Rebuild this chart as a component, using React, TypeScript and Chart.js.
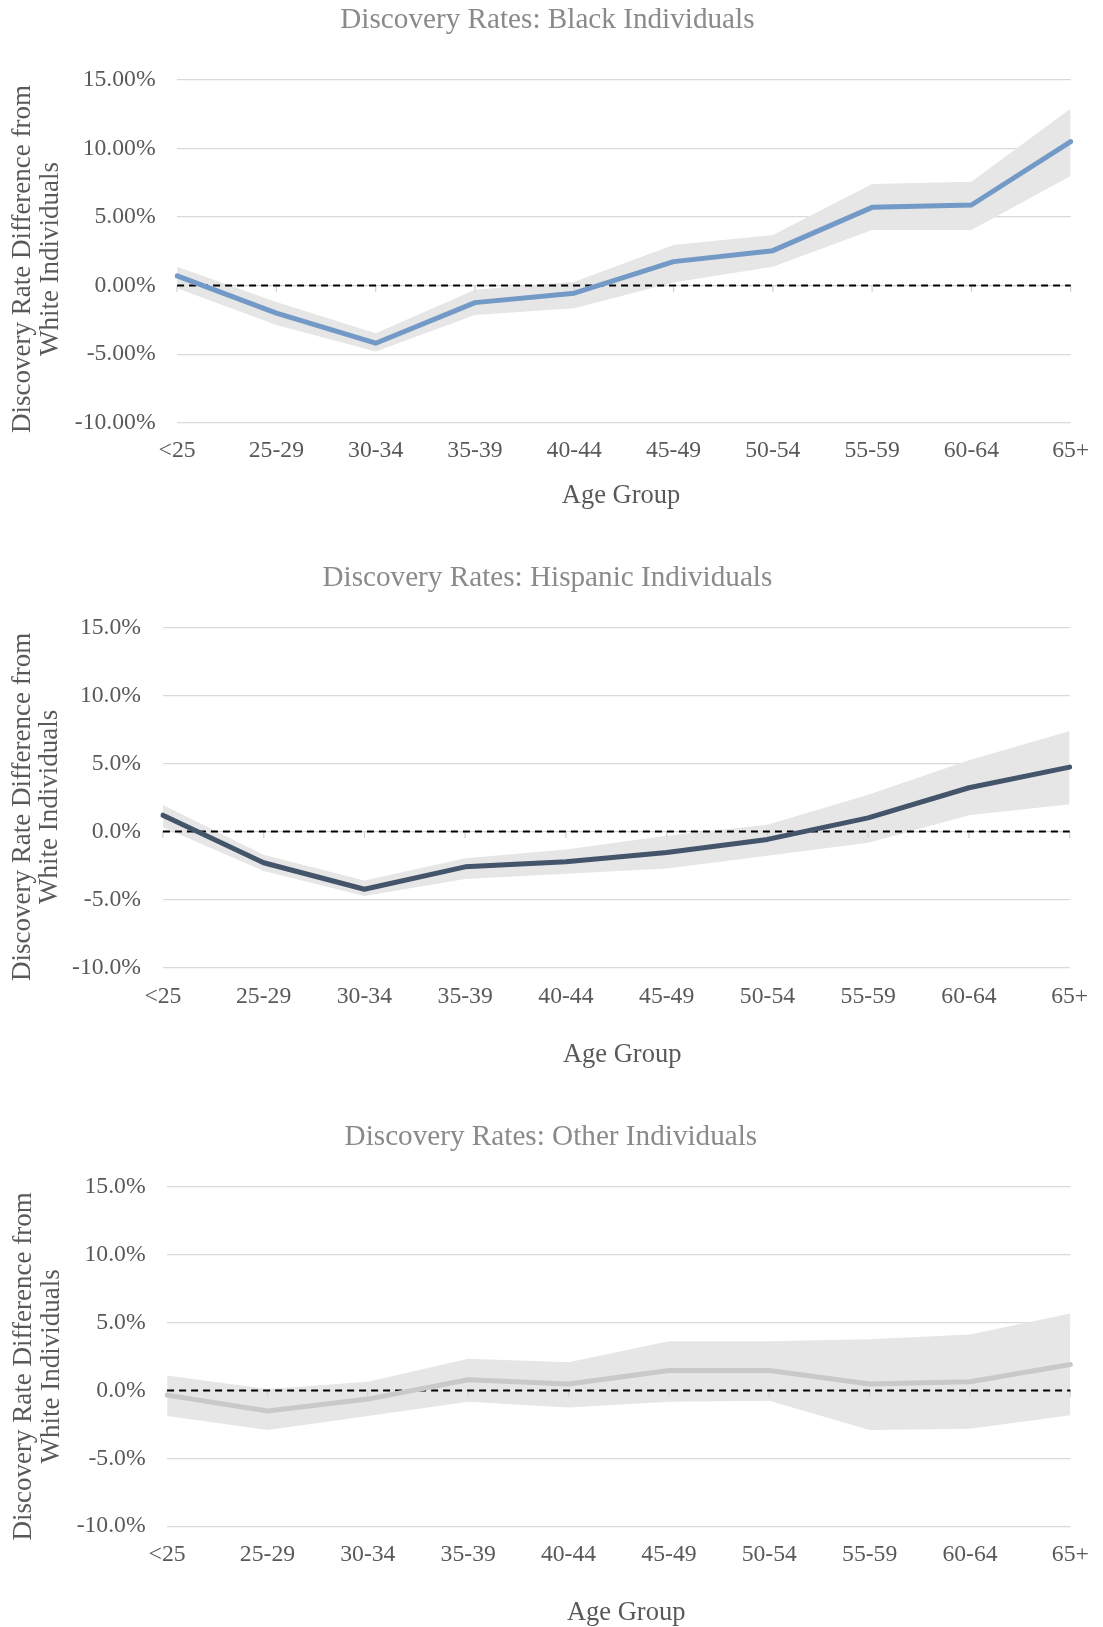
import React, { useEffect, useRef } from "react";
import { Chart, registerables } from "chart.js";

Chart.register(...registerables);

const ageGroups = ["<25", "25-29", "30-34", "35-39", "40-44", "45-49", "50-54", "55-59", "60-64", "65+"];
const yTickValues = [-10, -5, 0, 5, 10, 15];

const blackRate = [0.71, -2.0, -4.2, -1.24, -0.55, 1.75, 2.55, 5.71, 5.88, 10.5];
const blackUpper = [1.38, -1.2, -3.47, -0.31, 0.29, 2.97, 3.7, 7.41, 7.58, 12.93];
const blackLower = [-0.2, -2.87, -4.81, -2.14, -1.65, 0.22, 1.38, 4.06, 4.06, 8.0];

const hispanicRate = [1.19, -2.31, -4.26, -2.61, -2.23, -1.55, -0.59, 0.99, 3.21, 4.73];
const hispanicUpper = [1.95, -1.72, -3.62, -1.98, -1.34, -0.33, 0.48, 2.7, 5.24, 7.39];
const hispanicLower = [0.3, -2.92, -4.76, -3.5, -3.12, -2.74, -1.8, -0.84, 1.19, 2.0];

const otherRate = [-0.35, -1.51, -0.64, 0.79, 0.47, 1.46, 1.46, 0.47, 0.64, 1.91];
const otherUpper = [1.09, 0.1, 0.64, 2.33, 2.08, 3.62, 3.62, 3.77, 4.11, 5.67];
const otherLower = [-1.88, -2.92, -1.88, -0.84, -1.26, -0.84, -0.77, -2.92, -2.82, -1.83];

const titles = [
  "Discovery Rates: Black Individuals",
  "Discovery Rates: Hispanic Individuals",
  "Discovery Rates: Other Individuals",
];
const yTitleLines = ["Discovery Rate Difference from", "White Individuals"];
const xTitle = "Age Group";

const FONT = "'Liberation Serif', 'Times New Roman', Times, serif";
const W = 1103;
const TICK_SIZE = 23.7;

type Panel = {
  top: number;
  height: number;
  title: string;
  rate: number[];
  upper: number[];
  lower: number[];
  color: string;
  decimals: number;
  areaTop: number;
  areaBottom: number;
  areaLeft: number;
  areaRight: number;
  yTickPad: number;
  xTickOffset: number;
  titleX: number;
  titleY: number;
  yTitleX: number[];
  yTitleY: number;
  xTitleX: number;
  xTitleY: number;
};

const panels: Panel[] = [
  {
    top: 0, height: 530, title: titles[0], rate: blackRate, upper: blackUpper, lower: blackLower,
    color: "#7399C6", decimals: 2,
    areaTop: 80, areaBottom: 422.7, areaLeft: 177.1, areaRight: 1075,
    yTickPad: 21.4, xTickOffset: 28,
    titleX: 547.4, titleY: 20, yTitleX: [23, 51], yTitleY: 259, xTitleX: 621, xTitleY: 496.5,
  },
  {
    top: 530, height: 545, title: titles[1], rate: hispanicRate, upper: hispanicUpper, lower: hispanicLower,
    color: "#44546A", decimals: 1,
    areaTop: 97.5, areaBottom: 437.3, areaLeft: 162.9, areaRight: 1075,
    yTickPad: 21.8, xTickOffset: 29,
    titleX: 547.4, titleY: 47.9, yTitleX: [22.5, 50], yTitleY: 276.9, xTitleX: 622.2, xTitleY: 525.5,
  },
  {
    top: 1075, height: 552, title: titles[2], rate: otherRate, upper: otherUpper, lower: otherLower,
    color: "#C9C9C9", decimals: 1,
    areaTop: 111.7, areaBottom: 451.2, areaLeft: 167.1, areaRight: 1079.3,
    yTickPad: 21.4, xTickOffset: 28.3,
    titleX: 550.9, titleY: 62, yTitleX: [23.7, 52.3], yTitleY: 291.4, xTitleX: 626.2, xTitleY: 538.3,
  },
];

function ChartPanel({ p }: { p: Panel }) {
  const ref = useRef<HTMLCanvasElement | null>(null);
  useEffect(() => {
    const canvas = ref.current;
    if (!canvas) return;

    const decor = {
      id: "decor",
      beforeDatasetDraw(chart: any, args: any) {
        if (args.index !== 2) return;
        const ctx = chart.ctx;
        const { left, right } = chart.chartArea;
        const y0 = chart.scales.y.getPixelForValue(0);
        const xs = chart.scales.x;
        ctx.save();
        ctx.strokeStyle = "#D4D4D4";
        ctx.lineWidth = 1.3;
        for (let i = 0; i < ageGroups.length; i++) {
          const x = xs.getPixelForValue(i);
          ctx.beginPath();
          ctx.moveTo(x, y0);
          ctx.lineTo(x, y0 + 6.5);
          ctx.stroke();
        }
        ctx.strokeStyle = "#000000";
        ctx.lineWidth = 2;
        ctx.setLineDash([7, 5]);
        ctx.beginPath();
        ctx.moveTo(left, y0);
        ctx.lineTo(right, y0);
        ctx.stroke();
        ctx.restore();
      },
      afterDraw(chart: any) {
        const ctx = chart.ctx;
        ctx.save();
        ctx.textAlign = "center";
        ctx.textBaseline = "middle";
        ctx.fillStyle = "#8A8A8A";
        ctx.font = `29.2px ${FONT}`;
        ctx.fillText(p.title, p.titleX, p.titleY);
        ctx.fillStyle = "#595959";
        ctx.font = `26.5px ${FONT}`;
        ctx.fillText(xTitle, p.xTitleX, p.xTitleY);
        ctx.font = `27px ${FONT}`;
        for (let i = 0; i < yTitleLines.length; i++) {
          ctx.save();
          ctx.translate(p.yTitleX[i], p.yTitleY);
          ctx.rotate(-Math.PI / 2);
          ctx.fillText(yTitleLines[i], 0, 0);
          ctx.restore();
        }
        ctx.restore();
      },
    };

    const chart = new Chart(canvas, {
      type: "line",
      data: {
        labels: ageGroups,
        datasets: [
          {
            data: p.upper, borderWidth: 0, pointRadius: 0, fill: false, order: 2,
            borderColor: "rgba(0,0,0,0)", tension: 0,
          },
          {
            data: p.lower, borderWidth: 0, pointRadius: 0, fill: "-1", order: 1,
            borderColor: "rgba(0,0,0,0)", backgroundColor: "#E6E6E6", tension: 0,
          },
          {
            data: p.rate, borderWidth: 5, pointRadius: 0, fill: false, order: 0,
            borderColor: p.color, borderCapStyle: "round", borderJoinStyle: "round", tension: 0,
          },
        ],
      },
      options: {
        responsive: false,
        animation: false,
        devicePixelRatio: 1,
        events: [],
        layout: {
          padding: { top: p.areaTop, left: 0, right: W - p.areaRight, bottom: 0 },
        },
        plugins: {
          legend: { display: false },
          tooltip: { enabled: false },
          title: { display: false },
        },
        scales: {
          x: {
            type: "category",
            offset: false,
            grid: { display: false, drawTicks: false },
            border: { display: false },
            ticks: {
              color: "#595959",
              font: { family: FONT, size: TICK_SIZE },
              padding: p.xTickOffset - (TICK_SIZE * 1.2) / 2,
              maxRotation: 0,
              autoSkip: false,
            },
            afterFit: (s: any) => {
              s.height = p.height - p.areaBottom;
            },
          },
          y: {
            min: -10,
            max: 15,
            afterBuildTicks: (s: any) => {
              s.ticks = yTickValues.map((v) => ({ value: v }));
            },
            ticks: {
              color: "#595959",
              font: { family: FONT, size: TICK_SIZE },
              padding: p.yTickPad,
              callback: (v: any) => Number(v).toFixed(p.decimals) + "%",
            },
            grid: { color: "#D9D9D9", lineWidth: 1.3, drawTicks: false },
            border: { display: false },
            afterFit: (s: any) => {
              s.width = p.areaLeft;
            },
          },
        },
      },
      plugins: [decor],
    } as any);
    return () => chart.destroy();
  }, [p]);

  return (
    <div style={{ position: "absolute", left: 0, top: p.top, width: W, height: p.height }}>
      <canvas ref={ref} width={W} height={p.height} style={{ width: W, height: p.height, display: "block" }} />
    </div>
  );
}

export default function App() {
  return (
    <div style={{ position: "absolute", left: 0, top: 0, width: W, height: 1627, background: "#ffffff" }}>
      {panels.map((p, i) => (
        <ChartPanel key={i} p={p} />
      ))}
    </div>
  );
}
